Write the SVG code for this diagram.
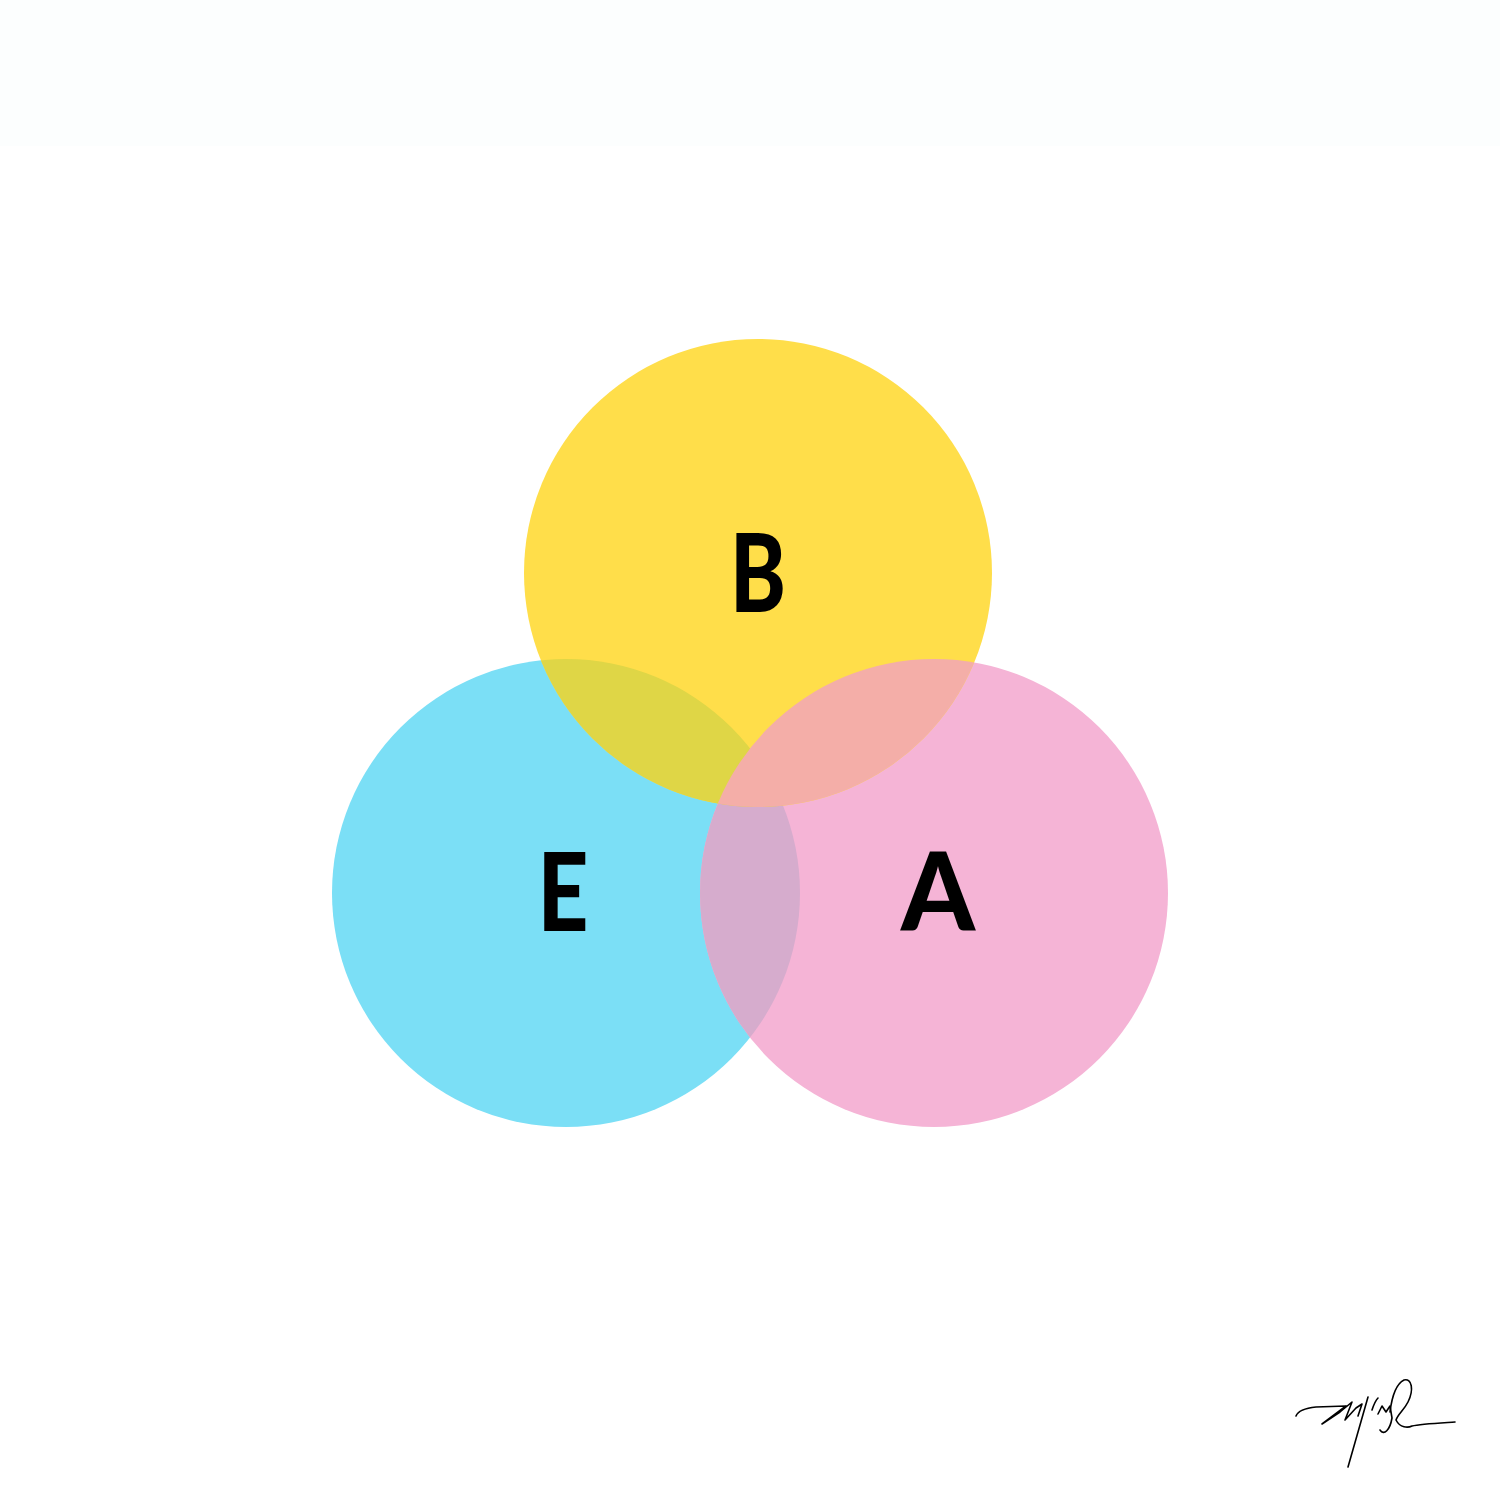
<svg xmlns="http://www.w3.org/2000/svg" width="1500" height="1500" viewBox="0 0 1500 1500">
<style>
.lbl{font-family:"Lato","Liberation Sans",sans-serif;font-weight:900;font-size:108px;fill:#000;text-anchor:middle}
.sig{fill:none;stroke:#000;stroke-width:1.6;stroke-linecap:round;stroke-linejoin:round}
</style>
<defs>
<clipPath id="cB"><circle cx="758" cy="573" r="234"/></clipPath>
<clipPath id="cE"><circle cx="566" cy="893" r="234"/></clipPath>
<clipPath id="cA"><circle cx="934" cy="893" r="234"/></clipPath>
</defs>
<rect width="1500" height="1500" fill="#ffffff"/>
<rect width="1500" height="146" fill="#fcfefe"/>
<g id="E">
<circle cx="566" cy="893" r="234" fill="#7bdff6"/>
</g>
<g id="A">
<circle cx="934" cy="893" r="234" fill="#f5b4d6"/>
</g>
<g id="B">
<circle cx="758" cy="573" r="234" fill="#ffde4a"/>
</g>
<g id="overlaps">
<circle cx="934" cy="893" r="234" fill="#d6accd" clip-path="url(#cE)"/>
<circle cx="566" cy="893" r="234" fill="#dfd646" clip-path="url(#cB)"/>
<circle cx="934" cy="893" r="234" fill="#f4aea8" clip-path="url(#cB)"/>
</g>
<g id="labels">
<text class="lbl" x="758" y="612" textLength="56" lengthAdjust="spacingAndGlyphs">B</text>
<text class="lbl" x="563" y="931" textLength="51" lengthAdjust="spacingAndGlyphs">E</text>
<text class="lbl" x="938" y="931" textLength="74" lengthAdjust="spacingAndGlyphs">A</text>
</g>
<g id="signature">
<path class="sig" d="M1296,1416 C1298,1411 1306,1408 1316,1407 L1346,1406 L1322,1424 L1340,1412 L1352,1402 L1345,1420 L1356,1408 L1362,1404 L1358,1416"/>
<path class="sig" d="M1368,1397 L1348,1467"/>
<path class="sig" d="M1372,1410 C1374,1404 1376,1400 1378,1398 M1378,1414 L1382,1406 L1386,1412 L1390,1406 L1392,1418 C1390,1430 1384,1436 1380,1430"/>
<path class="sig" d="M1390,1412 C1392,1396 1396,1384 1404,1380 C1412,1378 1414,1390 1408,1402 C1404,1410 1398,1414 1396,1420 C1400,1428 1408,1428 1412,1426 C1420,1424 1440,1423 1455,1422"/>
</g>
</svg>
